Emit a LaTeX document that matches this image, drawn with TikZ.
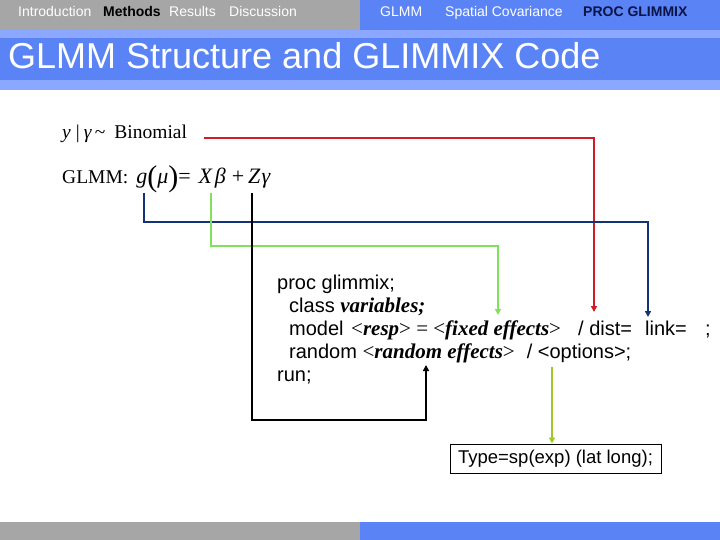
\documentclass[tikz,border=0pt]{standalone}
\usepackage{fontspec}
\setmainfont{Liberation Sans}
\newfontfamily\seriffont{Liberation Serif}
\usetikzlibrary{arrows.meta,positioning}

\definecolor{navbar}{RGB}{90,131,245}
\definecolor{navband}{RGB}{139,167,255}
\definecolor{navgray}{RGB}{166,166,166}
\definecolor{navdark}{RGB}{10,20,70}
\definecolor{linkblue}{RGB}{20,50,120}
\definecolor{distred}{RGB}{205,30,40}
\definecolor{fixgreen}{RGB}{130,225,90}
\definecolor{optolive}{RGB}{160,200,40}

% serif pieces inside the SAS code
\newcommand{\tbi}[1]{{\seriffont\fontsize{21}{21}\selectfont\bfseries\itshape #1}}
\newcommand{\tlt}[1]{{\seriffont\fontsize{21}{21}\selectfont #1}}
\newcommand{\bigpar}[1]{\raisebox{-3pt}{\fontsize{30}{30}\selectfont #1}}

\tikzset{
  navtext/.style={anchor=base west, inner sep=0pt, font=\fontsize{14}{14}\selectfont, text=white},
  codeline/.style={anchor=base west, inner sep=0pt, font=\fontsize{20}{20}\selectfont},
  formula/.style={anchor=base west, inner sep=0pt, font=\seriffont\fontsize{19.5}{19.5}\selectfont},
  conn/.style={line width=1.5pt, -{Triangle[length=6pt,width=6pt]}},
}

\begin{document}
\begin{tikzpicture}[x=1pt,y=-1pt]

    % Page and bars
    \useasboundingbox (0,0) rectangle (720,540);
    \fill[white] (0,0) rectangle (720,540);
    \fill[navgray] (0,0) rectangle (360,30);
    \fill[navbar] (360,0) rectangle (720,30);
    \fill[navband] (0,30) rectangle (720,90);
    \fill[navbar] (0,38) rectangle (720,80);
    \fill[navgray] (0,522) rectangle (360,540);
    \fill[navbar] (360,522) rectangle (720,540);

    % Navigation
    \node[navtext] (intro) at (18,17) {Introduction};
    \node[navtext, text=black, font=\fontsize{14}{14}\selectfont\bfseries] (methods) at (103,17) {Methods};
    \node[navtext] (results) at (169,17) {Results};
    \node[navtext] (discuss) at (229,17) {Discussion};
    \node[navtext] (glmmnav) at (380,17) {GLMM};
    \node[navtext] (spatial) at (445,17) {Spatial Covariance};
    \node[navtext, text=navdark, font=\fontsize{14}{14}\selectfont\bfseries] (procnav) at (583,17) {PROC GLIMMIX};

    % Title
    \node[anchor=base west, inner sep=0pt, text=white, font=\fontsize{36}{36}\selectfont] (title) at (8,69) {GLMM Structure and GLIMMIX Code};

    % Model
    \node[formula] (binom) at (62,139) {\textit{y}\hspace{5pt}|\hspace{4pt}\textit{γ}\hspace{3pt}\textasciitilde\hspace{9pt}Binomial};
    \node[formula] (glmm) at (62,184) {GLMM:\hspace{8pt}{\fontsize{22}{22}\selectfont\textit{g}\bigpar{(}\textit{μ}\bigpar{)}=\hspace{8pt}\textit{X}\hspace{2pt}\textit{β}\hspace{6pt}+\hspace{4pt}\textit{Z}\hspace{1pt}\textit{γ}}};

    % SAS code
    \node[codeline] (proc) at (277,289) {proc glimmix;};
    \node[codeline] (class) at (289,312) {class \tbi{variables;}};
    \node[codeline] (model) at (289,335) {model};
    \node[codeline] (resp) at (351,335) {\tlt{<}\tbi{resp}\tlt{> = <}\tbi{fixed effects}\tlt{>}};
    \node[codeline] (dist) at (578,335) {/ dist=};
    \node[codeline] (link) at (645,335) {link=};
    \node[codeline] (semi) at (705,335) {;};
    \node[codeline] (random) at (289,358) {random \tlt{<}\tbi{random effects}\tlt{>}\hspace{12pt}/ <options>;};
    \node[codeline] (run) at (277,381) {run;};

    \node[draw, line width=1pt, minimum width=211pt, minimum height=29pt, inner sep=0pt,
          font=\fontsize{18.5}{18.5}\selectfont] (typebox) at (555.5,458.5) {Type=sp(exp) (lat long);};

    % Connector ends
    \coordinate (binStart) at (204,138);
    \coordinate (gStart) at (144,193);
    \coordinate (xStart) at (211,193);
    \coordinate (zStart) at (252,193);
    \coordinate (distTip) at (594,312);
    \coordinate (linkBend) at (648,222);
    \coordinate (linkTip) at (648,317);
    \coordinate (fixBend) at (498,246);
    \coordinate (fixTip) at (498,315);
    \coordinate (randBend) at (426,420);
    \coordinate (randTip) at (426,365);
    \coordinate (optStart) at (552,367);

    % Connectors
    \draw[conn, distred] (binStart) -| (distTip);
    \draw[conn, linkblue] (gStart) |- (linkBend) -- (linkTip);
    \draw[conn, fixgreen] (xStart) |- (fixBend) -- (fixTip);
    \draw[conn, black] (zStart) |- (randBend) -- (randTip);
    \draw[conn, optolive] (optStart) -- (optStart |- typebox.north);

\end{tikzpicture}
\end{document}
